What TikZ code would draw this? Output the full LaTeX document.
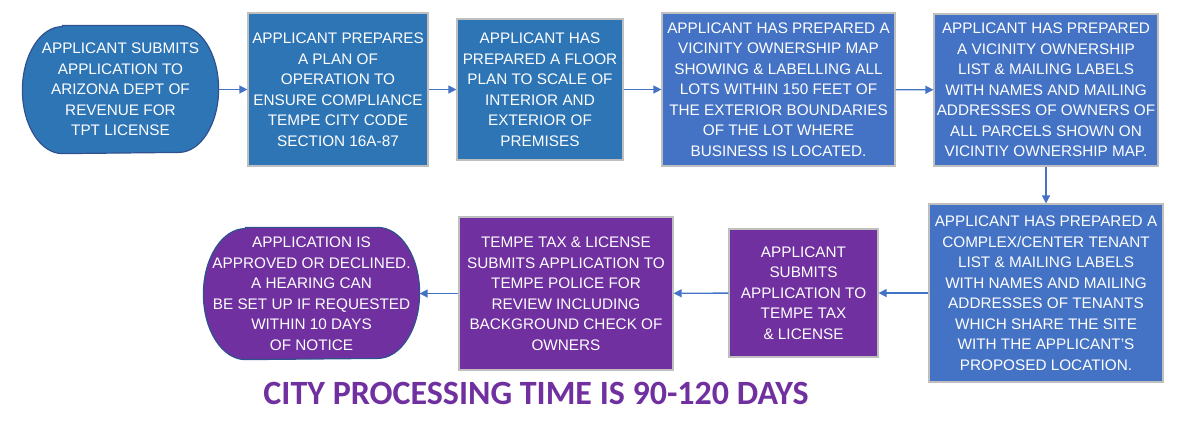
\documentclass[tikz,border=0pt]{standalone}
\usepackage{fontspec}
\setmainfont{Liberation Sans}
\newfontfamily\titlefont{Carlito}
\usetikzlibrary{arrows.meta,backgrounds}
\definecolor{bluea}{HTML}{2E75B6}
\definecolor{blueb}{HTML}{4472C4}
\definecolor{purp}{HTML}{7030A0}
\definecolor{edgegray}{HTML}{BFBFBF}
\definecolor{stadedge}{HTML}{2F528F}
\definecolor{arrowc}{HTML}{4472C4}
\tikzset{
  x=1pt, y=-1pt,
  boxbase/.style={rectangle, inner sep=0pt, align=center, text=white,
    font=\fontsize{15.3}{20.5}\selectfont, line width=1.2pt},
  stepbox/.style={boxbase, draw=edgegray},
  stadium/.style={boxbase},
  stadshape/.style={draw=stadedge, line width=1.2pt},
  flow/.style={draw=arrowc, line width=1.4pt, -{Triangle[length=8pt,width=8pt]}},
}
\newcommand{\stadiumpath}[4]{% node, fill, x radius, y radius
  \path[stadshape, fill=#2] ([xshift=#3]#1.north west) -- ([xshift=-#3]#1.north east)
    arc[x radius=#3, y radius=#4, start angle=90, end angle=-90]
    -- ([xshift=#3]#1.south west)
    arc[x radius=#3, y radius=#4, start angle=-90, end angle=-270] -- cycle;}
\begin{document}
\begin{tikzpicture}
\useasboundingbox (0,0) rectangle (1182,424);
\node[stadium, minimum width=195pt, minimum height=127pt] (n1) at (120.5,89.5)
  {APPLICANT SUBMITS\\APPLICATION TO\\ARIZONA DEPT OF\\REVENUE FOR\\TPT LICENSE};
\node[stepbox, fill=bluea, minimum width=180pt, minimum height=153pt] (n2) at (338,89.5)
  {APPLICANT PREPARES\\A PLAN OF\\OPERATION TO\\ENSURE COMPLIANCE\\TEMPE CITY CODE\\SECTION 16A-87};
\node[stepbox, fill=bluea, minimum width=166pt, minimum height=141pt] (n3) at (540,89.5)
  {APPLICANT HAS\\PREPARED A FLOOR\\PLAN TO SCALE OF\\INTERIOR AND\\EXTERIOR OF\\PREMISES};
\node[stepbox, fill=blueb, minimum width=233pt, minimum height=153pt] (n4) at (778.5,89.5)
  {APPLICANT HAS PREPARED A\\VICINITY OWNERSHIP MAP\\SHOWING \& LABELLING ALL\\LOTS WITHIN 150 FEET OF\\THE EXTERIOR BOUNDARIES\\OF THE LOT WHERE\\BUSINESS IS LOCATED.};
\node[stepbox, fill=blueb, minimum width=224pt, minimum height=152pt] (n5) at (1046,90)
  {APPLICANT HAS PREPARED\\A VICINITY OWNERSHIP\\LIST \& MAILING LABELS\\WITH NAMES AND MAILING\\ADDRESSES OF OWNERS OF\\ALL PARCELS SHOWN ON\\VICINTIY OWNERSHIP MAP.};
\node[stepbox, fill=blueb, minimum width=234pt, minimum height=178pt] (n6) at (1046,293)
  {APPLICANT HAS PREPARED A\\COMPLEX/CENTER TENANT\\LIST \& MAILING LABELS\\WITH NAMES AND MAILING\\ADDRESSES OF TENANTS\\WHICH SHARE THE SITE\\WITH THE APPLICANT’S\\PROPOSED LOCATION.};
\node[stepbox, fill=purp, minimum width=149pt, minimum height=128pt] (n7) at (803.5,293)
  {APPLICANT\\SUBMITS\\APPLICATION TO\\TEMPE TAX\\\& LICENSE};
\node[stepbox, fill=purp, minimum width=214pt, minimum height=153pt] (n8) at (566,293.5)
  {TEMPE TAX \& LICENSE\\SUBMITS APPLICATION TO\\TEMPE POLICE FOR\\REVIEW INCLUDING\\BACKGROUND CHECK OF\\OWNERS};
\node[stadium, minimum width=215pt, minimum height=131pt] (n9) at (311.5,293.5)
  {APPLICATION IS\\APPROVED OR DECLINED.\\A HEARING CAN\\BE SET UP IF REQUESTED\\WITHIN 10 DAYS\\OF NOTICE};
\begin{scope}[on background layer]
  \stadiumpath{n1}{bluea}{40pt}{63.5pt}
  \stadiumpath{n9}{purp}{42pt}{65.5pt}
\end{scope}
\node[anchor=base, text=purp, font=\titlefont\bfseries\fontsize{34}{40}\selectfont] (title) at (536,404)
  {CITY PROCESSING TIME IS 90-120 DAYS};
\draw[flow] (n1) -- (n2);
\draw[flow] (n2) -- (n3);
\draw[flow] (n3) -- (n4);
\draw[flow] (n4) -- (n5);
\draw[flow] (n5) -- (n6);
\draw[flow] (n6) -- (n7);
\draw[flow] (n7) -- (n8);
\draw[flow] (n8) -- (n9);
\end{tikzpicture}
\end{document}
